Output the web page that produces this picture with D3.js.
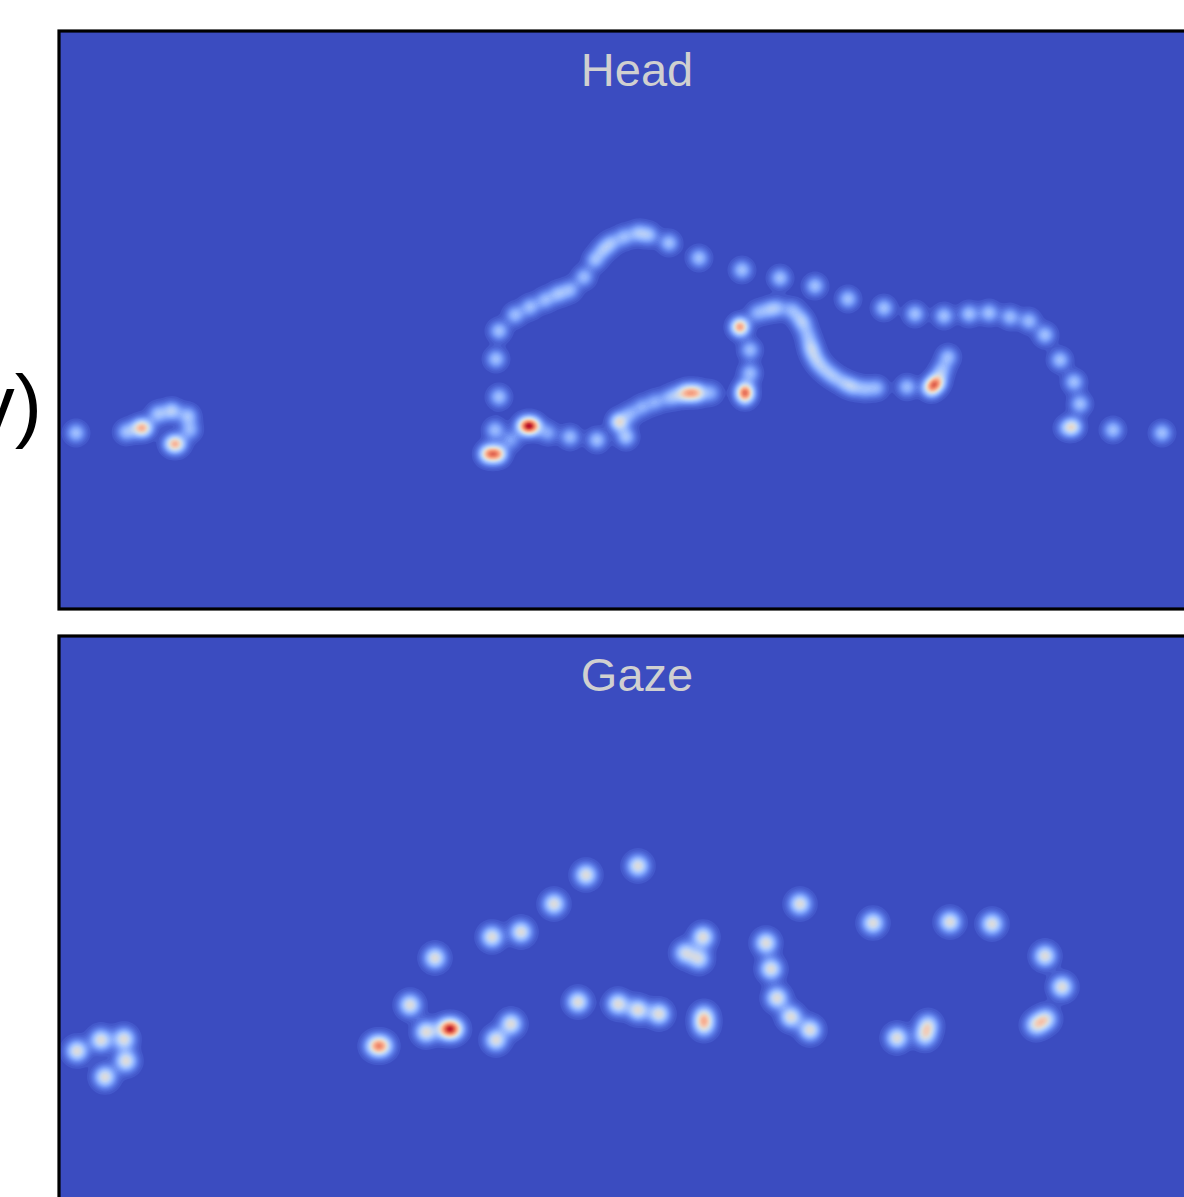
<!DOCTYPE html>
<html>
<head>
<meta charset="utf-8">
<script src="https://cdn.jsdelivr.net/npm/d3@7"></script>
<style>
  html, body { margin: 0; padding: 0; background: #fff; overflow: hidden; }
  svg { display: block; }
</style>
</head>
<body>
<svg id="chart" width="1184" height="1197"></svg>
<script>
// ---- data: fixation points on the equirectangular map [x, y, peak weight] ----
const headPoints = [
  [17,402,.3],[67,401,.28],[80,397,.38],[86,397,.38],[99,383,.3],[113,380,.35],[129,385,.3],[131,399,.26],
  [113,413,.38],[119,413,.38],
  [440,300,.3],[437,328,.3],[440,366,.3],[436,399,.28],[429,423,.6],[439,423,.6],[452,409,.2],
  [466,395,.62],[474,395,.62],
  [489,402,.22],[511,406,.28],[538,409,.3],
  [456,284,.28],[471,276,.28],[486,269,.26],[499,263,.28],[511,259,.26],[525,246,.28],[536,229,.28],
  [544,219,.26],[552,212,.26],[565,206,.26],[579,202,.28],[590,204,.28],[610,212,.3],[640,227,.3],
  [683,239,.3],[721,247,.3],[756,255,.3],[789,268,.3],[825,277,.3],[856,283,.3],[885,285,.3],
  [910,283,.3],[930,282,.3],[951,286,.28],[970,290,.28],[986,304,.3],[1001,329,.3],[1015,351,.3],
  [1021,373,.3],[1014,396,.42],[1007,397,.2],[1054,399,.3],[1103,402,.3],
  [681,296,.72],[691,319,.28],[691,342,.28],[686,359,.48],[686,365,.48],
  [698,282,.22],[709,279,.22],[718,277,.24],[733,279,.24],[741,287,.22],[745,294,.22],[749,305,.22],
  [752,316,.3],[755,325,.24],[760,333,.24],[767,340,.22],[775,346,.24],[785,352,.24],[794,356,.28],
  [806,358,.24],[818,357,.24],[848,356,.28],[872,357,.55],[878,351,.55],[883,339,.26],[889,326,.28],
  [628,362,.5],[638,362,.5],[652,362,.22],[619,364,.22],[610,367,.22],[596,371,.22],[583,376,.22],[571,383,.22],
  [560,391,.5],[567,406,.32]
];
const gazePoints = [
  [18,415,.5],[42,404,.5],[65,403,.5],[67,425,.5],[46,441,.5],
  [316,410,.47],[324,410,.47],[351,369,.5],[367,396,.5],[387,393,.58],[395,393,.58],
  [376,322,.5],[433,301,.5],[462,296,.5],
  [495,268,.5],[527,239,.5],[579,230,.5],[452,388,.5],[437,404,.5],[519,366,.5],
  [644,301,.5],[626,317,.42],[640,323,.42],[559,368,.5],[579,374,.5],[600,378,.5],
  [645,380,.45],[645,390,.45],
  [741,268,.5],[707,307,.5],[712,333,.5],[718,362,.5],[732,381,.5],[751,394,.5],
  [814,287,.5],[891,286,.5],[933,288,.5],[838,402,.5],[869,389,.42],[866,400,.42],
  [986,320,.5],[1003,351,.5],[977,389,.45],[987,383,.45]
];
const panelTitles = ["Head", "Gaze"];
const sideLabel = "(v)";
// coolwarm colormap stops
const coolwarmStops = ['#3b4cc0','#5977e3','#7b9ff9','#9ebeff','#c0d4f5','#dddcdc','#f2cbb7','#f7ac8e','#ee8468','#d65244','#b40426'];

// ---- layout ----
const MAP_W = 1156, MAP_H = 578;
const panelLeft = 59;
const panelTops = [31, 636];
const sigmas = [6.2, 7];
const CELL = 2;

const svg = d3.select("#chart");
const color = d3.scaleLinear()
  .domain(d3.range(coolwarmStops.length).map(i => i / (coolwarmStops.length - 1)))
  .range(coolwarmStops)
  .interpolate(d3.interpolateRgb)
  .clamp(true);

const x = d3.scaleLinear().domain([0, MAP_W]).range([panelLeft, panelLeft + MAP_W]);

const datasets = [headPoints, gazePoints];
const step = 0.02;
const thresholds = d3.range(0.02, 1.0001, step);

datasets.forEach((pts, k) => {
  const top = panelTops[k];
  const y = d3.scaleLinear().domain([0, MAP_H]).range([top, top + MAP_H]);
  const s = sigmas[k];
  const gw = Math.ceil(MAP_W / CELL), gh = Math.ceil(MAP_H / CELL);
  const values = new Float64Array(gw * gh);
  pts.forEach(([px, py, w]) => {
    const cx = x(px) - panelLeft, cy = y(py) - top;
    const r = 4 * s;
    const i0 = Math.max(0, Math.floor((cx - r) / CELL)), i1 = Math.min(gw - 1, Math.ceil((cx + r) / CELL));
    const j0 = Math.max(0, Math.floor((cy - r) / CELL)), j1 = Math.min(gh - 1, Math.ceil((cy + r) / CELL));
    for (let j = j0; j <= j1; j++) {
      const dy = (j + 0.5) * CELL - cy;
      for (let i = i0; i <= i1; i++) {
        const dx = (i + 0.5) * CELL - cx;
        values[j * gw + i] += w * Math.exp(-(dx * dx + dy * dy) / (2 * s * s));
      }
    }
  });
  for (let i = 0; i < values.length; i++) values[i] = Math.min(1, values[i]);

  const clipId = "clip" + k;
  svg.append("clipPath").attr("id", clipId)
    .append("rect").attr("x", 0).attr("y", 0).attr("width", MAP_W).attr("height", MAP_H);

  const g = svg.append("g")
    .attr("transform", `translate(${panelLeft},${top})`)
    .attr("clip-path", `url(#${clipId})`);

  g.append("rect").attr("width", MAP_W).attr("height", MAP_H).attr("fill", color(0));

  const contours = d3.contours().size([gw, gh]).thresholds(thresholds)(values);
  const path = d3.geoPath(d3.geoIdentity().scale(CELL));
  g.selectAll("path.lvl").data(contours).join("path")
    .attr("class", "lvl")
    .attr("d", path)
    .attr("fill", d => color(d.value + step / 2));

  svg.append("rect")
    .attr("x", panelLeft).attr("y", top)
    .attr("width", MAP_W).attr("height", MAP_H)
    .attr("fill", "none").attr("stroke", "#000").attr("stroke-width", 3.2);

  svg.append("text")
    .attr("x", panelLeft + MAP_W / 2).attr("y", top + 55)
    .attr("text-anchor", "middle")
    .attr("font-family", "Liberation Sans, Arial, sans-serif")
    .attr("font-size", 47)
    .attr("fill", "#d0d0d0")
    .text(panelTitles[k]);
});

svg.append("text")
  .attr("x", 42).attr("y", 432)
  .attr("text-anchor", "end")
  .attr("font-family", "Liberation Sans, Arial, sans-serif")
  .attr("font-size", 82)
  .attr("fill", "#000")
  .text(sideLabel);
</script>
</body>
</html>
